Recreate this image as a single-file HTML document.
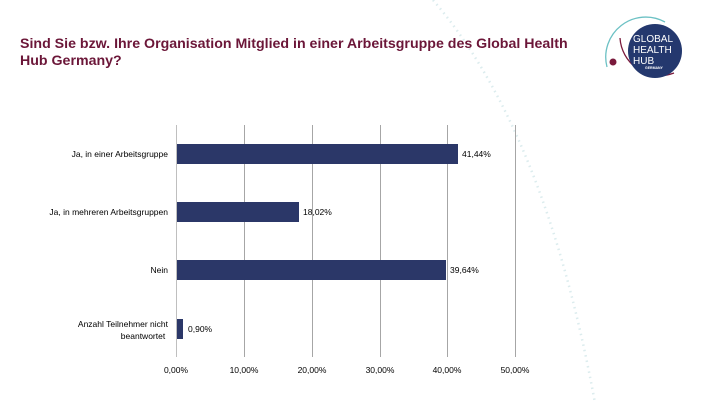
<!DOCTYPE html>
<html><head><meta charset="utf-8"><style>
body{margin:0;width:702px;height:403px;overflow:hidden;background:#fff;font-family:"Liberation Sans",Arial,sans-serif;}
</style></head><body>
<svg width="702" height="403" xmlns="http://www.w3.org/2000/svg" style="position:absolute;left:0;top:0">
<path d="M433,0 Q545,130 595,403" fill="none" stroke="#dcecee" stroke-width="2.5" stroke-dasharray="1.5,4"/>
<text x="20" y="48" font-size="14.2" font-weight="bold" fill="#6b1638">Sind Sie bzw. Ihre Organisation Mitglied in einer Arbeitsgruppe des Global Health</text>
<text x="20" y="65" font-size="14.2" font-weight="bold" fill="#6b1638">Hub Germany?</text>
<!-- logo -->
<path d="M665,22 A40,40 0 0 0 607,67" fill="none" stroke="#6cc1c4" stroke-width="1.3"/>
<path d="M620,38 A40,40 0 0 0 674,73" fill="none" stroke="#7a1a3c" stroke-width="1.3"/>
<circle cx="613" cy="62" r="3.5" fill="#7a1a3c"/>
<circle cx="655" cy="51" r="27" fill="#24386e"/>
<text x="633" y="42" font-size="10" fill="#fff">GLOBAL</text>
<text x="633" y="53" font-size="10" fill="#fff">HEALTH</text>
<text x="633" y="64" font-size="10" fill="#fff">HUB</text>
<text x="645" y="69" font-size="3.5" font-weight="bold" fill="#fff">GERMANY</text>
<!-- grid -->
<g stroke="#a6a6a6" stroke-width="1">
<line x1="176.5" y1="125" x2="176.5" y2="357" stroke="#bfbfbf"/>
<line x1="244.5" y1="125" x2="244.5" y2="357"/>
<line x1="312.5" y1="125" x2="312.5" y2="357"/>
<line x1="380.5" y1="125" x2="380.5" y2="357"/>
<line x1="447.5" y1="125" x2="447.5" y2="357"/>
<line x1="515.5" y1="125" x2="515.5" y2="357"/>
</g>
<g fill="#2b3768">
<rect x="177" y="144" width="281" height="20"/>
<rect x="177" y="202" width="122" height="20"/>
<rect x="177" y="260" width="269" height="20"/>
<rect x="177" y="319" width="6" height="20"/>
</g>
<g font-size="8.5" fill="#000">
<text x="462" y="157">41,44%</text>
<text x="303" y="215">18,02%</text>
<text x="450" y="273">39,64%</text>
<text x="188" y="332">0,90%</text>
<g text-anchor="end">
<text x="168" y="157">Ja, in einer Arbeitsgruppe</text>
<text x="168" y="215">Ja, in mehreren Arbeitsgruppen</text>
<text x="168" y="273">Nein</text>
<text x="168" y="327">Anzahl Teilnehmer nicht</text>
</g>
<text x="143" y="339" text-anchor="middle">beantwortet</text>
<g text-anchor="middle">
<text x="176" y="373">0,00%</text>
<text x="244" y="373">10,00%</text>
<text x="312" y="373">20,00%</text>
<text x="380" y="373">30,00%</text>
<text x="447" y="373">40,00%</text>
<text x="515" y="373">50,00%</text>
</g>
</g>
</svg>
</body></html>
